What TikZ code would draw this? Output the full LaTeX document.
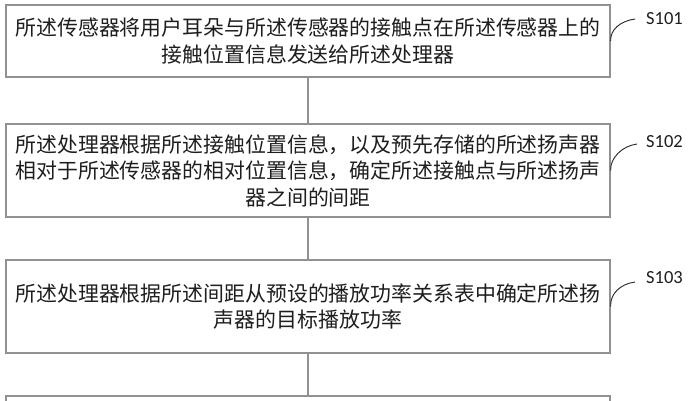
\documentclass[tikz,border=0pt]{standalone}
\usepackage{fontspec}
\newfontfamily\cjk{Noto Sans CJK SC}
\newfontfamily\lab{Carlito}
\definecolor{boxgray}{RGB}{145,145,145}
\definecolor{txt}{RGB}{30,30,30}
\begin{document}
\begin{tikzpicture}[x=1pt,y=-1pt,
  stepbox/.style={draw=boxgray,line width=1.3pt,minimum width=604pt,inner sep=0pt,
    align=center,text=txt,font=\cjk\fontsize{20.9}{26.5}\selectfont},
  conn/.style={draw=boxgray,line width=1.3pt},
  tick/.style={draw=black!85,line width=0.9pt},
  steplabel/.style={anchor=west,inner sep=0pt,text=txt,font=\lab\fontsize{18.5}{21}\selectfont}]
\clip (0,0) rectangle (688,400);
\fill[white] (0,0) rectangle (688,400);
\node[stepbox,minimum height=72pt] (b1) at (308,41)
  {所述传感器将用户耳朵与所述传感器的接触点在所述传感器上的\\接触位置信息发送给所述处理器};
\node[stepbox,minimum height=93pt] (b2) at (308,170.5)
  {所述处理器根据所述接触位置信息，以及预先存储的所述扬声器\\相对于所述传感器的相对位置信息，确定所述接触点与所述扬声\\器之间的间距};
\node[stepbox,minimum height=93pt] (b3) at (308,306.5)
  {所述处理器根据所述间距从预设的播放功率关系表中确定所述扬\\声器的目标播放功率};
\node[stepbox,minimum height=93pt] (b4) at (308,442.5) {};
\draw[conn] (b1.south) -- (b2.north);
\draw[conn] (b2.south) -- (b3.north);
\draw[conn] (b3.south) -- (b4.north);
\node[steplabel] (s1) at (646,19) {S101};
\node[steplabel] (s2) at (646,142) {S102};
\node[steplabel] (s3) at (646,278) {S103};
\coordinate (e1) at (635,19);
\coordinate (e2) at (637,144);
\coordinate (e3) at (635,282);
\draw[tick] (b1.east) .. controls (610,30) and (620,21) .. (e1);
\draw[tick] (b2.east) .. controls (610,158) and (622,146) .. (e2);
\draw[tick] (b3.east) .. controls (610,294) and (620,284) .. (e3);
\end{tikzpicture}
\end{document}
